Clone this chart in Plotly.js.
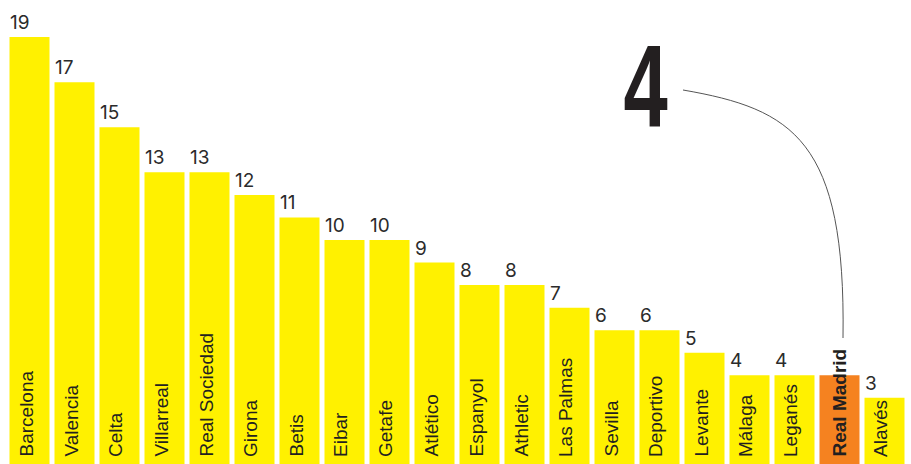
<!DOCTYPE html>
<html>
<head>
<meta charset="utf-8">
<script src="https://cdn.plot.ly/plotly-3.0.1.min.js"></script>
<style>html,body{margin:0;padding:0;background:#fff;}#chart{width:911px;height:464px;}</style>
</head>
<body>
<div id="chart"></div>
<script>
const categories = ["Barcelona","Valencia","Celta","Villarreal","Real Sociedad","Girona","Betis","Eibar","Getafe","Atlético","Espanyol","Athletic","Las Palmas","Sevilla","Deportivo","Levante","Málaga","Leganés","Real Madrid","Alavés"];
const values = [19,17,15,13,13,12,11,10,10,9,8,8,7,6,6,5,4,4,4,3];
const highlight = "Real Madrid";

const YELLOW = "#FFF100";
const ORANGE = "#F58220";
const TEXT = "#231F20";
const FONT = "Liberation Sans, Arial, sans-serif";
const NUMFONT = "Inter, Liberation Sans, Arial, sans-serif";

const W = 911, H = 464, ML = 7, MR = 4;
const PW = W - ML - MR;
const PXU = 22.55;      // pixels per unit
const BELOW = 1.5;      // base sits this many px below the picture
const px = X => (X - ML) / PW;
const py = Y => 1 - Y / H;

const colors = categories.map(c => c === highlight ? ORANGE : YELLOW);
const hiIdx = categories.indexOf(highlight);

const annotations = [];
categories.forEach((c, i) => {
  const isHi = c === highlight;
  annotations.push({
    x: c, y: 0, xref: "x", yref: "paper",
    text: isHi ? "<b>" + c + "</b>" : c,
    textangle: -90, showarrow: false,
    xanchor: "center", yanchor: "bottom",
    yshift: 5, xshift: isHi ? -1 : -4,
    font: {family: FONT, size: 19, color: TEXT}
  });
  if (!isHi) {
    annotations.push({
      x: c, y: values[i], xref: "x", yref: "y",
      text: String(values[i]), showarrow: false,
      xanchor: "left", yanchor: "bottom",
      xshift: -22, yshift: 1,
      font: {family: NUMFONT, size: 19, color: "#2b2b2b"}
    });
  }
});
annotations.push({
  x: px(645), y: py(86), xref: "paper", yref: "paper",
  text: "<b>" + values[hiIdx] + "</b>", showarrow: false,
  xanchor: "center", yanchor: "middle",
  font: {family: "Liberation Sans, Arial, sans-serif", size: 117, color: TEXT}
});

const pts = [[683,90],[793,109],[846,140],[843,338]].map(p => [px(p[0]), py(p[1])]);
const path = `M ${pts[0][0]},${pts[0][1]} C ${pts[1][0]},${pts[1][1]} ${pts[2][0]},${pts[2][1]} ${pts[3][0]},${pts[3][1]}`;

const data = [{
  type: "bar", x: categories, y: values,
  marker: {color: colors, line: {width: 0}},
  hoverinfo: "none"
}];

const yMin = BELOW / PXU;
const layout = {
  width: W, height: H,
  margin: {l: ML, r: MR, t: 0, b: 0, pad: 0},
  paper_bgcolor: "#fff", plot_bgcolor: "#fff",
  showlegend: false, bargap: 5/45,
  xaxis: {type: "category", range: [-0.5, categories.length - 0.5], showticklabels: false, showgrid: false, zeroline: false, showline: false, ticks: ""},
  yaxis: {range: [yMin, yMin + H / PXU], showticklabels: false, showgrid: false, zeroline: false, showline: false, ticks: ""},
  annotations: annotations,
  shapes: [{type: "path", xref: "paper", yref: "paper", path: path, line: {color: "#555", width: 1}}]
};

Plotly.newPlot("chart", data, layout, {staticPlot: true, displayModeBar: false}).then(() => {
  const anns = document.querySelectorAll("g.annotation");
  const big = anns[anns.length - 1].querySelector("text");
  if (big) {
    big.style.transformBox = "fill-box";
    big.style.transformOrigin = "center";
    big.style.transform = "scale(0.68, 1)";
  }
});
</script>
</body>
</html>
